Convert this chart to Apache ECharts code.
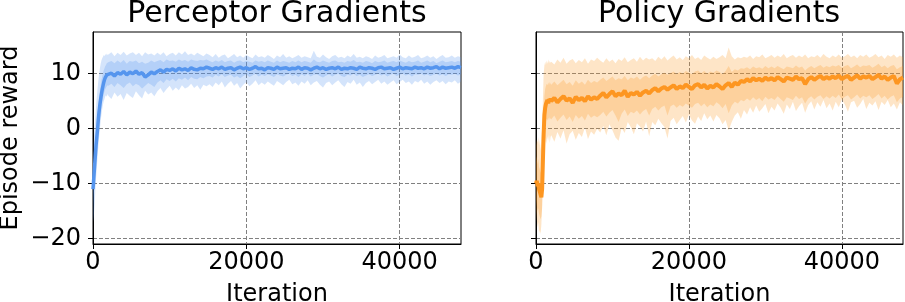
<!DOCTYPE html>
<html>
<head>
<meta charset="utf-8">
<script src="https://cdn.jsdelivr.net/npm/echarts@6/dist/echarts.min.js"></script>
<style>
html,body{margin:0;padding:0;background:#fff;}
#chart{width:905px;height:302px;}
</style>
</head>
<body>
<div id="chart"></div>
<script>
var titles = ['Perceptor Gradients', 'Policy Gradients'];
var xTicks = [0, 20000, 40000];
var yTicks = [-20, -10, 0, 10];

var iterations = [
0,100,200,300,400,500,600,700,800,900,1000,1100,1200,1300,1400,1500,1600,1700,1800,1900,
2000,2400,2800,3200,3600,4000,4400,4800,5200,5600,6000,6400,6800,7200,7600,8000,
8400,8800,9200,9600,10000,10400,10800,11200,11600,12000,12400,12800,13200,13600,14000,14400,14800,
15200,15600,16000,16400,16800,17200,17600,18000,18400,18800,
19200,19600,20000,20400,20800,21200,21600,22000,22400,22800,
23200,23600,24000,24400,24800,25200,25600,26000,26400,26800,
27200,27600,28000,28400,28800,29200,29600,30000,30400,30800,
31200,31600,32000,32400,32800,33200,33600,34000,34400,34800,
35200,35600,36000,36400,36800,37200,37600,38000,38400,38800,
39200,39600,40000,40400,40800,41200,41600,42000,42400,42800,
43200,43600,44000,44400,44800,45200,45600,46000,46400,46800,
47200,47600,48000];

// Perceptor Gradients (blue)
var perceptorMean = [
-11,-9,-7,-5,-3,-1.5,0,1.8,3.2,4.4,5.4,6.3,7.1,7.8,8.4,8.9,9.3,9.6,9.8,9.9,
9.7,10.1,9.6,10.2,9.9,10.4,9.8,10.3,10.0,10.5,9.9,10.2,9.4,9.8,10.3,10.0,
10.4,10.7,10.3,10.8,10.6,10.9,10.5,11.0,10.7,10.9,10.6,11.1,10.8,10.7,11.0,10.9,11.2,
11.0,10.8,11.1,10.9,11.2,10.8,11.0,11.1,10.7,11.0,
11.2,10.9,11.1,10.8,11.0,11.3,10.9,11.0,10.7,11.1,
11.0,10.8,11.2,10.9,11.0,11.1,10.8,11.0,10.9,11.2,
10.8,11.1,11.0,10.7,11.0,11.2,10.9,11.1,10.8,11.0,
11.1,10.9,11.2,10.8,11.0,10.9,11.1,11.0,10.8,11.2,
11.0,10.9,11.1,11.0,10.8,11.1,11.2,10.9,11.0,11.1,
10.8,11.0,11.2,10.9,11.1,11.0,10.9,11.2,11.0,11.1,
10.9,11.2,11.0,11.1,11.3,10.9,11.2,11.0,11.1,11.2,
11.0,11.3,11.1];
var perceptorOuterHigh = [
-4,-2,0,2,4,5.8,7.4,8.8,10,11,11.8,12.4,12.8,13.1,13.4,13.2,13.6,13.3,13.7,13.4,
13.5,13.9,13.2,13.8,13.4,14.0,13.3,13.7,13.9,13.4,13.8,13.2,13.9,13.5,13.7,13.3,
13.8,13.4,13.9,13.2,13.6,13.8,13.3,13.9,13.5,14.1,13.4,13.7,13.3,13.8,13.5,13.2,13.7,
13.4,13.0,13.6,12.9,13.3,13.5,12.8,13.2,13.6,13.0,
13.3,12.9,13.4,13.1,12.8,13.5,13.0,13.2,12.9,13.4,
13.1,12.7,13.3,13.0,13.6,12.9,13.2,12.8,13.1,13.4,
12.9,13.2,13.0,12.8,14.2,13.1,12.9,13.5,13.0,12.7,
13.2,13.4,12.9,13.1,12.8,13.3,13.0,13.6,12.9,13.1,
12.8,13.2,13.0,12.7,13.3,12.9,13.1,13.4,12.8,13.0,
13.2,12.9,13.5,13.0,12.8,13.3,12.9,13.1,13.4,12.8,
13.0,13.3,12.9,13.2,12.7,13.1,13.4,12.9,13.0,13.3,
12.9,13.2,13.0];
var perceptorOuterLow = [
-17,-16,-14,-11.5,-9,-7,-5,-3.2,-1.5,0,1.4,2.6,3.6,4.4,5.0,5.4,5.9,6.1,5.8,6.3,
6.0,5.4,6.6,5.8,6.3,5.2,6.5,6.0,5.6,6.8,6.1,5.5,6.9,6.2,6.6,5.9,
6.8,7.4,6.5,7.2,7.8,6.9,7.5,7.0,7.9,7.3,7.6,8.2,7.4,7.9,7.1,8.0,7.7,
8.1,7.6,8.4,7.9,8.6,7.5,8.2,8.7,7.8,8.3,
7.3,8.0,8.5,7.7,8.2,8.8,7.9,8.4,8.0,8.6,
8.2,7.8,8.7,8.3,7.9,8.5,8.9,8.1,8.4,7.8,
8.6,8.2,8.8,7.9,8.4,8.7,8.0,7.5,8.3,8.6,
7.9,8.4,8.8,8.1,7.6,8.5,8.2,8.9,8.0,8.4,
7.6,8.3,8.7,8.1,8.5,8.9,8.2,8.6,8.0,8.4,
8.8,8.1,8.5,8.9,8.3,8.6,8.0,8.7,8.4,8.9,
8.2,8.6,8.0,8.5,8.8,8.3,8.7,8.1,8.6,8.4,
8.8,8.2,8.6];
var perceptorInnerHigh = [
-8,-6,-4,-2,0,1.5,3,4.4,5.7,6.8,7.8,8.8,9.5,10.1,10.6,11.0,11.4,11.6,11.9,12.0,
12.1,12.3,11.9,12.4,12.0,12.5,11.8,12.3,12.2,12.4,11.9,12.2,11.8,12.0,12.4,12.1,
12.3,12.5,12.1,12.6,12.3,12.4,12.2,12.6,12.3,12.5,12.2,12.6,12.4,12.3,12.5,12.4,12.6,
12.3,12.1,12.4,12.2,12.5,12.1,12.3,12.4,12.0,12.3,
12.4,12.1,12.3,12.2,12.0,12.4,12.2,12.3,12.1,12.4,
12.2,12.0,12.4,12.1,12.3,12.2,12.0,12.3,12.1,12.4,
12.1,12.3,12.2,12.0,12.6,12.2,12.1,12.4,12.2,12.0,
12.3,12.4,12.1,12.2,12.0,12.3,12.2,12.5,12.1,12.2,
12.0,12.3,12.2,11.9,12.3,12.1,12.2,12.4,12.0,12.2,
12.3,12.1,12.4,12.2,12.0,12.3,12.1,12.2,12.4,12.0,
12.2,12.4,12.1,12.3,11.9,12.2,12.4,12.1,12.2,12.3,
12.1,12.3,12.2];
var perceptorInnerLow = [
-14,-12,-10,-8,-6,-4.5,-3,-1.2,0.4,1.8,3,4,4.9,5.6,6.3,6.8,7.2,7.5,7.7,7.9,
7.8,8.2,7.6,8.3,7.9,7.4,8.1,8.4,7.7,8.2,7.9,7.3,7.8,8.3,8.0,7.6,
8.4,8.8,8.3,9.0,8.7,9.1,8.6,9.2,8.9,9.3,8.8,9.4,9.1,9.0,9.4,9.2,9.5,
9.6,9.3,9.8,9.5,9.9,9.4,9.7,9.8,9.3,9.6,
9.2,9.6,9.9,9.4,9.7,10.0,9.5,9.8,9.6,9.9,
9.7,9.4,9.9,9.7,9.5,9.8,10.0,9.6,9.8,9.4,
9.9,9.6,10.0,9.5,9.8,9.9,9.6,9.3,9.7,9.9,
9.5,9.8,10.0,9.6,9.4,9.8,9.7,10.0,9.6,9.8,
9.4,9.7,9.9,9.6,9.8,10.0,9.7,9.9,9.5,9.8,
10.0,9.6,9.8,10.0,9.7,9.9,9.5,9.9,9.8,10.0,
9.7,9.9,9.6,9.8,10.0,9.7,9.9,9.6,9.9,9.8,
10.0,9.7,9.9];

// Policy Gradients (orange)
var policyMean = [
-10,-9.5,-10.5,-10,-11,-11.5,-12,-12.5,-11,-6,-1,2.5,3.8,4.5,4.8,5.2,4.6,5.4,4.9,5.5,
5.0,5.6,4.8,5.4,5.9,5.1,5.5,4.7,5.8,5.2,5.6,5.0,5.9,5.3,5.7,5.4,
6.0,6.5,5.7,6.3,6.8,5.9,6.4,6.1,6.9,5.8,6.5,6.2,6.7,6.0,6.6,6.9,6.4,
7.0,7.4,6.8,7.3,7.6,7.1,7.5,7.9,7.2,7.7,
7.4,8.0,7.6,7.2,7.9,8.1,7.5,8.0,7.3,7.8,
7.5,8.1,7.7,7.2,7.9,8.3,7.6,8.4,8.0,8.7,
8.5,9.0,8.6,9.2,8.8,9.1,8.7,9.3,8.9,9.2,
8.8,9.4,9.0,8.6,9.3,9.1,8.9,9.5,9.0,9.2,
8.1,9.0,9.4,8.9,9.3,9.6,9.0,9.4,9.1,9.5,
9.2,9.7,9.0,9.4,9.6,8.9,9.3,9.7,9.1,9.5,
9.3,9.6,9.0,9.4,9.8,9.1,9.5,8.9,9.3,9.6,
8.2,9.0,9.3];
var policyOuterHigh = [
-3,-2,-2.5,-1.5,-3,-2,-4,-2.5,0,5,10,11.5,12.2,11.6,12.4,11.8,12.6,11.9,12.3,12.0,
12.2,11.7,12.6,12.0,12.9,11.8,12.4,12.7,11.9,12.5,12.1,12.8,11.8,12.6,12.3,12.9,
12.4,12.0,12.8,12.2,12.6,11.9,12.7,12.3,13.0,12.1,12.5,12.8,12.2,13.1,12.4,12.9,12.6,
12.8,12.3,13.1,12.6,13.2,12.4,12.9,13.3,12.6,13.0,
12.5,13.2,12.8,13.4,12.7,13.0,12.5,13.3,12.9,12.6,
13.1,12.7,13.0,13.4,12.8,14.8,13.2,12.6,13.0,12.8,
13.1,12.9,13.3,12.7,13.2,13.0,13.5,12.8,13.1,13.4,
12.9,13.3,13.0,13.6,12.8,13.2,13.4,12.9,13.3,13.0,
13.5,12.8,13.2,13.0,13.4,12.9,13.6,13.1,12.8,13.3,
13.0,13.5,12.9,13.2,13.6,13.0,13.3,12.8,13.4,13.1,
13.5,12.9,13.2,13.6,13.0,13.3,12.7,13.4,13.1,13.5,
12.9,13.3,13.0];
var policyOuterLow = [
-15,-16.5,-18,-17,-19,-18.5,-19.2,-17.5,-14,-8,-3,-1.8,-2.5,-1.6,-2.8,-1.4,-2.2,-1.0,-2.6,-1.5,
-1.2,-2.4,-0.6,-1.8,-0.3,-2.7,-1.0,-0.4,-2.0,-0.8,-1.5,0.2,-1.9,-0.5,-1.1,0.0,
-0.7,0.5,-1.2,0.8,-0.3,-1.6,-2.2,0.1,-0.8,1.2,0.3,-1.0,1.0,0.4,-0.5,1.3,-1.4,
1.2,0.6,1.8,1.0,0.3,-1.8,1.4,2.0,0.8,1.6,
2.3,1.1,2.6,1.5,0.9,2.2,1.4,2.8,1.7,2.4,
1.3,2.5,1.9,0.8,1.6,-0.3,1.2,2.4,3.0,1.8,
3.4,2.6,3.9,2.9,4.2,3.1,3.7,4.5,2.8,4.0,
3.3,4.6,3.8,2.7,4.4,3.6,4.9,3.2,4.1,4.7,
2.9,4.3,5.0,3.5,4.8,4.0,5.2,3.7,4.6,3.3,
4.9,3.9,5.3,4.4,3.1,4.8,5.1,3.8,4.5,5.4,
3.6,4.7,4.2,5.0,3.4,4.9,4.3,5.2,3.9,4.6,
3.5,4.8,4.2];
var policyInnerHigh = [
-6,-5,-6.5,-5.5,-7,-7.5,-8,-8,-6,-1.5,3.5,6,7.2,7.8,8.2,7.9,8.4,8.0,8.5,8.2,
8.0,8.6,7.9,8.4,8.9,8.1,8.5,7.8,8.8,8.2,8.6,8.0,8.9,8.3,8.7,8.4,
8.9,9.3,8.7,9.1,9.5,8.8,9.2,9.0,9.6,8.8,9.3,9.1,9.5,8.9,9.4,9.7,9.2,
9.7,10.0,9.5,9.9,10.2,9.8,10.1,10.4,9.9,10.3,
10.0,10.5,10.2,9.9,10.4,10.6,10.1,10.5,10.0,10.4,
10.2,10.6,10.3,9.9,10.5,11.4,10.3,10.8,10.6,11.0,
10.9,11.2,10.8,11.3,11.0,11.2,10.9,11.4,11.0,11.3,
11.0,11.4,11.1,10.8,11.3,11.2,11.0,11.5,11.1,11.3,
10.6,11.1,11.4,11.0,11.3,11.6,11.1,11.4,11.2,11.5,
11.3,11.6,11.1,11.4,11.6,11.0,11.3,11.7,11.2,11.5,
11.4,11.6,11.1,11.4,11.8,11.2,11.5,11.0,11.4,11.6,
10.8,11.2,11.4];
var policyInnerLow = [
-13,-14,-15,-14.5,-15.5,-16,-16.5,-16,-14.5,-10,-5,-0.5,0.8,1.4,1.8,1.5,2.0,1.6,2.1,1.8,
1.7,2.4,1.3,2.0,2.6,1.6,2.2,1.2,2.5,1.8,2.3,1.5,2.7,2.0,2.4,2.1,
2.5,3.1,2.2,2.9,3.4,2.4,1.2,2.7,3.5,2.3,3.1,2.8,3.3,2.6,3.2,3.6,2.4,
3.6,4.0,3.3,3.9,4.2,2.4,4.1,4.4,3.8,4.3,
4.0,4.6,4.2,3.8,4.5,4.7,4.1,4.6,3.9,4.4,
4.1,4.8,4.4,3.7,4.5,2.8,4.2,4.9,4.6,5.2,
5.0,5.5,5.1,5.7,5.2,5.6,5.0,5.8,5.3,5.6,
5.2,5.9,5.4,4.9,5.7,5.5,5.2,6.0,5.4,5.7,
4.6,5.5,5.9,5.3,5.8,6.1,5.4,5.9,5.5,6.0,
5.6,6.2,5.4,5.8,6.1,5.3,5.7,6.2,5.5,6.0,
5.7,6.1,5.4,5.8,6.3,5.5,6.0,5.3,5.8,6.1,
4.8,5.5,5.8];

var FONT = 'DejaVu Sans';
var blue = '#5595ee';
var orange = '#fd9621';

function pairs(vals) {
  var out = [];
  var n = Math.min(iterations.length, vals.length);
  for (var i = 0; i < n; i++) out.push([iterations[i], vals[i]]);
  return out;
}
function bandRows(lo, hi) {
  var out = [];
  var n = Math.min(iterations.length, lo.length, hi.length);
  for (var i = 0; i < n; i++) out.push([iterations[i], lo[i], hi[i]]);
  return out;
}
function minusFmt(v) { return v < 0 ? '\u2212' + Math.abs(v) : String(v); }

// A band drawn as one polygon via the axes' own coordinate conversion.
function bandSeries(idx, lo, hi, color) {
  var rows = bandRows(lo, hi);
  return {
    type: 'custom', xAxisIndex: idx, yAxisIndex: idx, silent: true, z: 2, clip: true,
    data: rows,
    encode: { x: 0, y: [1, 2] },
    renderItem: function (params, api) {
      if (params.dataIndex !== 0) return null;
      var top = [], bottom = [];
      for (var i = 0; i < rows.length; i++) {
        top.push(api.coord([rows[i][0], rows[i][2]]));
        bottom.push(api.coord([rows[i][0], rows[i][1]]));
      }
      var pts = top.concat(bottom.reverse());
      return {
        type: 'polygon',
        shape: { points: pts },
        style: { fill: color, opacity: 0.25 }
      };
    }
  };
}
function meanSeries(idx, vals, color, w) {
  return { type: 'line', xAxisIndex: idx, yAxisIndex: idx, data: pairs(vals), symbol: 'none',
    lineStyle: { color: color, width: w }, silent: true, z: 3 };
}

var gridLine = { show: true, lineStyle: { color: '#808080', width: 1, type: [4, 2] } };

function xAxisCfg(idx) {
  return {
    type: 'value', gridIndex: idx, min: 0, max: 48000,
    name: 'Iteration', nameLocation: 'middle', nameGap: 39,
    nameTextStyle: { fontFamily: FONT, fontSize: 24, color: '#000' },
    axisLine: { show: true, onZero: false, lineStyle: { color: '#000', width: 1 } },
    axisTick: { show: true, customValues: xTicks, length: 5, lineStyle: { color: '#000' } },
    axisLabel: { customValues: xTicks, formatter: function (v) { return String(v); },
      fontFamily: FONT, fontSize: 24, color: '#000', margin: 7 },
    splitLine: gridLine
  };
}
function yAxisCfg(idx) {
  return {
    type: 'value', gridIndex: idx, min: -21, max: 17.6,
    name: idx === 0 ? 'Episode reward' : '', nameLocation: 'middle', nameGap: 70,
    nameTextStyle: { fontFamily: FONT, fontSize: 24, color: '#000' },
    axisLine: { show: true, onZero: false, lineStyle: { color: '#000', width: 1 } },
    axisTick: { show: true, customValues: yTicks, length: 5, lineStyle: { color: '#000' } },
    axisLabel: { show: idx === 0, customValues: yTicks, formatter: minusFmt,
      fontFamily: FONT, fontSize: 24, color: '#000', margin: 12 },
    splitLine: gridLine
  };
}

var chart = echarts.init(document.getElementById('chart'), null, { renderer: 'canvas' });
var option = {
  animation: false,
  backgroundColor: '#fff',
  title: [
    { text: titles[0], left: 277, top: -1, padding: 0, textAlign: 'center',
      textStyle: { fontFamily: FONT, fontSize: 30, fontWeight: 'normal', color: '#000' } },
    { text: titles[1], left: 719, top: -1, padding: 0, textAlign: 'center',
      textStyle: { fontFamily: FONT, fontSize: 30, fontWeight: 'normal', color: '#000' } }
  ],
  grid: [
    { left: 93, top: 32, width: 368, height: 212, show: true, borderColor: '#000', borderWidth: 1,
      backgroundColor: 'transparent', containLabel: false, outerBoundsMode: 'none' },
    { left: 536, top: 32, width: 367, height: 212, show: true, borderColor: '#000', borderWidth: 1,
      backgroundColor: 'transparent', containLabel: false, outerBoundsMode: 'none' }
  ],
  xAxis: [xAxisCfg(0), xAxisCfg(1)],
  yAxis: [yAxisCfg(0), yAxisCfg(1)],
  series: [
    bandSeries(0, perceptorOuterLow, perceptorOuterHigh, blue),
    bandSeries(0, perceptorInnerLow, perceptorInnerHigh, blue),
    meanSeries(0, perceptorMean, blue, 3.5),
    bandSeries(1, policyOuterLow, policyOuterHigh, orange),
    bandSeries(1, policyInnerLow, policyInnerHigh, orange),
    meanSeries(1, policyMean, orange, 4)
  ]
};
chart.setOption(option);
</script>
</body>
</html>
